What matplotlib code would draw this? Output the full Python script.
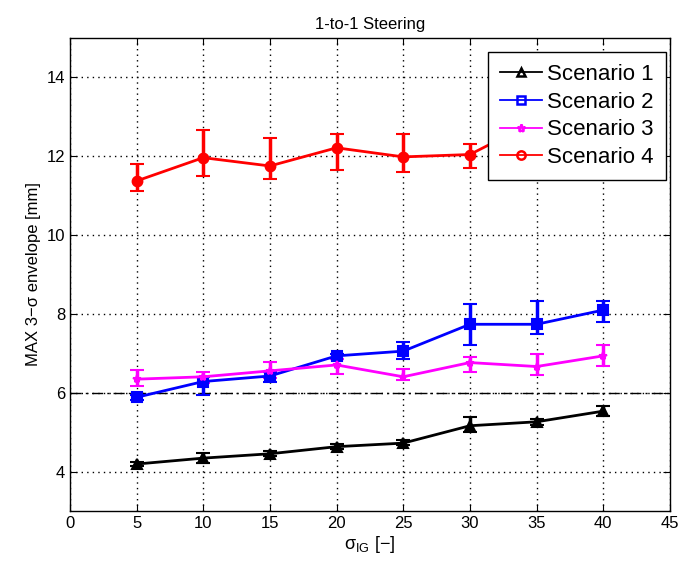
import matplotlib
matplotlib.use("Agg")
import matplotlib.pyplot as plt
from matplotlib.lines import Line2D
import numpy as np

plt.rcParams['font.family'] = ['Liberation Sans', 'DejaVu Sans']

sigma_ig = [5, 10, 15, 20, 25, 30, 35, 40]

s1_val = [4.20, 4.35, 4.46, 4.64, 4.73, 5.17, 5.27, 5.54]
s1_lo = [4.14, 4.22, 4.40, 4.58, 4.67, 5.02, 5.20, 5.42]
s1_hi = [4.26, 4.47, 4.52, 4.70, 4.80, 5.40, 5.34, 5.67]

s2_val = [5.89, 6.29, 6.43, 6.94, 7.06, 7.74, 7.74, 8.10]
s2_lo = [5.81, 5.95, 6.29, 6.87, 6.86, 7.22, 7.49, 7.81]
s2_hi = [5.95, 6.41, 6.52, 6.98, 7.28, 8.25, 8.33, 8.33]

s3_val = [6.35, 6.41, 6.56, 6.71, 6.41, 6.77, 6.67, 6.94]
s3_lo = [6.18, 6.26, 6.37, 6.47, 6.33, 6.54, 6.46, 6.68]
s3_hi = [6.58, 6.54, 6.78, 6.86, 6.61, 6.90, 6.98, 7.22]

s4_val = [11.37, 11.96, 11.75, 12.21, 11.98, 12.04, 12.90, 12.80]
s4_lo = [11.11, 11.50, 11.42, 11.65, 11.60, 11.69, 12.60, 12.50]
s4_hi = [11.79, 12.66, 12.46, 12.57, 12.55, 12.30, 13.20, 13.10]

labels = ['Scenario 1', 'Scenario 2', 'Scenario 3', 'Scenario 4']
colors = ['black', 'blue', 'magenta', 'red']
markers = ['^', 's', '*', 'o']

fig = plt.figure(figsize=(6.85, 5.62), dpi=100)
ax = fig.add_axes([0.102, 0.09, 0.876, 0.843])

x = np.array(sigma_ig)
series = [(s1_val, s1_lo, s1_hi), (s2_val, s2_lo, s2_hi),
          (s3_val, s3_lo, s3_hi), (s4_val, s4_lo, s4_hi)]
handles = []
for (v, lo, hi), lab, c, m in zip(series, labels, colors, markers):
    v = np.array(v); lo = np.array(lo); hi = np.array(hi)
    ms = 7 if m != '*' else 6
    ax.errorbar(x, v, yerr=[v - lo, hi - v], color=c, marker=m,
                markersize=ms, markerfacecolor=c,
                markeredgewidth=1.5, linewidth=2, elinewidth=2.5,
                capsize=5, capthick=2.5, zorder=3)
    handles.append(Line2D([], [], color=c, marker=m, markersize=6,
                          markerfacecolor='none', markeredgewidth=1.8,
                          linewidth=1.3, label=lab))

ax.axhline(6, color='black', linestyle=(0, (8, 3, 1.5, 3)), linewidth=1.0, zorder=2)

ax.set_xlim(0, 45)
ax.set_ylim(3, 15)
ax.set_xticks(range(0, 46, 5))
ax.set_yticks([4, 6, 8, 10, 12, 14])
ax.grid(True, color='black', linestyle=(0, (1, 3)), linewidth=1.0)
ax.tick_params(direction='in', top=True, right=True, labelsize=12, length=5)
for sp in ax.spines.values():
    sp.set_linewidth(1.0)

ax.set_title('1-to-1 Steering', fontsize=12)
ax.set_xlabel(r'$\mathregular{\sigma_{IG}}$ [$\mathregular{-}$]', fontsize=13, labelpad=2)
ax.set_ylabel('MAX 3\u2212\u03c3 envelope [mm]', fontsize=12)

leg = ax.legend(handles=handles, loc='upper right', bbox_to_anchor=(0.993, 0.97),
                fontsize=16, fancybox=False, framealpha=1, edgecolor='black',
                borderaxespad=0, handlelength=1.9, labelspacing=0.3,
                borderpad=0.55, handletextpad=0.2)
leg.get_frame().set_linewidth(1.0)
leg.set_zorder(10)

fig.savefig('out.png', dpi=100)
